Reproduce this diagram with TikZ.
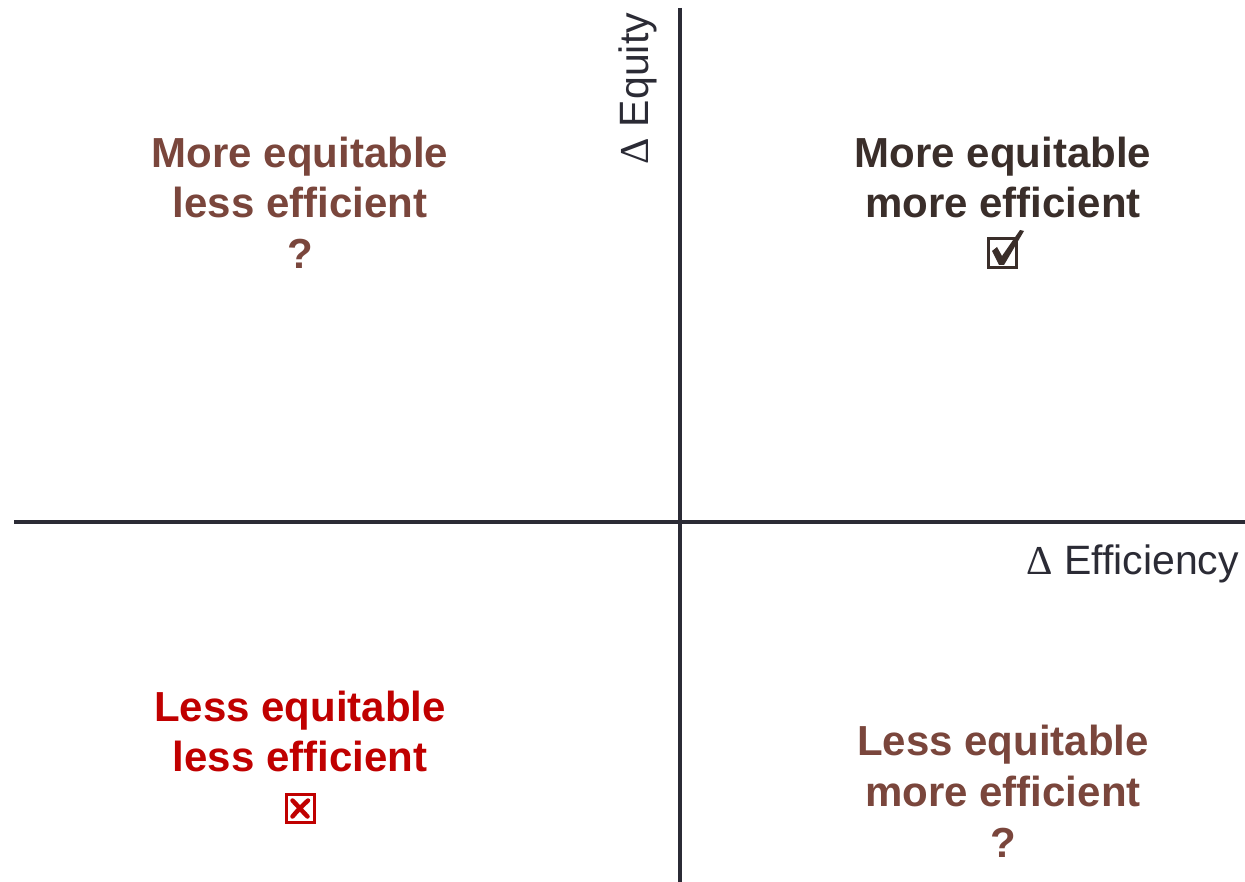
\documentclass[tikz,border=0pt]{standalone}
\usepackage{fontspec}
\setmainfont{Liberation Sans}
\newfontfamily\deltafont{Liberation Serif}
\definecolor{axiscol}{HTML}{2B2B35}
\definecolor{mutedbrown}{HTML}{7A463C}
\definecolor{darkbrown}{HTML}{3A2E2A}
\definecolor{alertred}{HTML}{C00000}
\begin{document}
\begin{tikzpicture}[x=1pt,y=-1pt,
  axisline/.style={draw=axiscol,line width=4.5pt},
  quadtext/.style={anchor=base,inner sep=0pt,font=\fontsize{42}{50}\selectfont\bfseries},
  axislabel/.style={inner sep=0pt,text=axiscol,font=\fontsize{41}{48}\selectfont},
  tickbox/.style={line width=3pt,line join=miter}]
  \useasboundingbox (0,0) rectangle (1245,882);
  \fill[white] (0,0) rectangle (1245,882);

  % axes
  \coordinate (ytop) at (680,8);
  \coordinate (ybot) at (680,882);
  \coordinate (xleft) at (14,522);
  \coordinate (xright) at (1245,522);
  \draw[axisline] (xleft) -- (xright);
  \draw[axisline] (ytop) -- (ybot);

  % axis labels
  \node[axislabel,anchor=base east] (effl) at (1239,574)
    {{\deltafont Δ} Efficiency};
  \node[axislabel,anchor=base west,rotate=90] (equl) at (648,165)
    {{\deltafont Δ} Equity};

  % upper left
  \node[quadtext,text=mutedbrown] (ul1) at (300,168) {More equitable};
  \node[quadtext,text=mutedbrown] (ul2) at (300,218) {less efficient};
  \node[quadtext,text=mutedbrown] (ul3) at (300,269) {?};

  % upper right
  \node[quadtext,text=darkbrown] (ur1) at (1003,168) {More equitable};
  \node[quadtext,text=darkbrown] (ur2) at (1003,218) {more efficient};
  \draw[tickbox,draw=darkbrown] (988.5,238.5) rectangle (1016.5,267.5);
  \fill[darkbrown] (992,251) -- (997,247) -- (1002,256) -- (1020,230) -- (1024,231)
    -- (1004,265) -- (999,265) -- cycle;

  % lower left
  \node[quadtext,text=alertred] (ll1) at (300,721) {Less equitable};
  \node[quadtext,text=alertred] (ll2) at (300,771) {less efficient};
  \draw[tickbox,draw=alertred] (286,794) rectangle (314,822);
  \draw[alertred,line width=4.5pt,line cap=round] (292.5,800.5) .. controls (298,806) and (302,811) .. (307.5,816.5);
  \draw[alertred,line width=4.5pt,line cap=round] (308,800.5) .. controls (303,805) and (297,811) .. (292.5,816.5);

  % lower right
  \node[quadtext,text=mutedbrown] (lr1) at (1003,755) {Less equitable};
  \node[quadtext,text=mutedbrown] (lr2) at (1003,806) {more efficient};
  \node[quadtext,text=mutedbrown] (lr3) at (1003,857) {?};
\end{tikzpicture}
\end{document}
